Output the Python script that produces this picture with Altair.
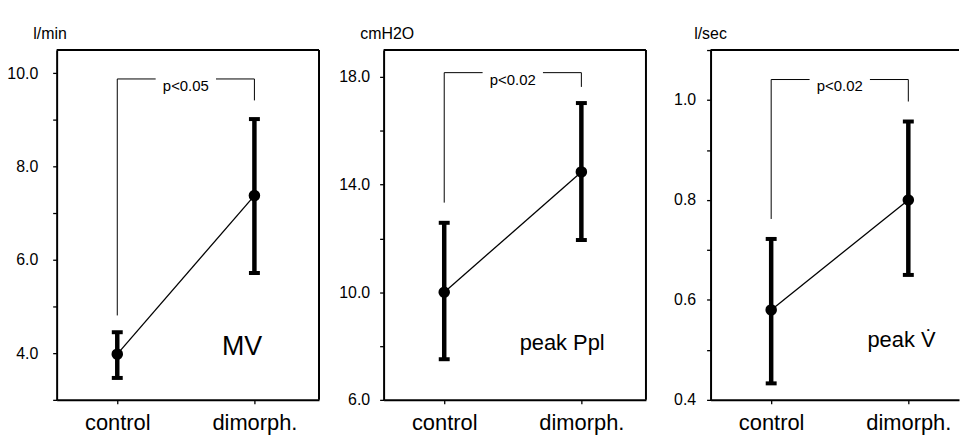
import json
import altair as alt
import pandas as pd

# ---------------- data ----------------
groups = ["control", "dimorph."]

mv_mean = [3.98, 7.38]
mv_low = [3.47, 5.72]
mv_high = [4.45, 9.02]

ppl_mean = [10.0, 14.47]
ppl_low = [7.51, 11.94]
ppl_high = [12.58, 17.03]

v_mean = [0.58, 0.80]
v_low = [0.433, 0.65]
v_high = [0.722, 0.957]

units = ["l/min", "cmH2O", "l/sec"]
labels = ["MV", "peak Ppl", "peak V\u0307"]
p_texts = ["p<0.05", "p<0.02", "p<0.02"]

mv_ticks = [4.0, 6.0, 8.0, 10.0]
ppl_ticks = [6.0, 10.0, 14.0, 18.0]
v_ticks = [0.4, 0.6, 0.8, 1.0]

# bracket: level, left leg end, right leg end
mv_bracket = [9.88, 4.81, 9.42]
ppl_bracket = [18.16, 13.33, 17.63]
v_bracket = [1.041, 0.762, 0.997]

SANS = "Liberation Sans, Arial, sans-serif"
PX_PER_UNIT = 138.0
LEFT_PX = 61.0


def panel(mean, low, high, unit, label, ptext, majors, bracket, ydom, ystep,
          width, lab_pos, lab_size, lpad, title_x, right_edge=True):
    height = 352
    xmin = -LEFT_PX / PX_PER_UNIT
    xmax = (width - LEFT_PX) / PX_PER_UNIT
    xscale = alt.Scale(domain=[xmin, xmax], nice=False, zero=False)
    yscale = alt.Scale(domain=ydom, nice=False, zero=False)
    n = int(round((ydom[1] - ydom[0]) / ystep))
    minor = [round(ydom[0] + i * ystep, 4) for i in range(n + 1)]
    yaxis = alt.Axis(
        values=minor,
        labelExpr=f"indexof({json.dumps(majors)}, round(datum.value*1000)/1000) >= 0 ? format(datum.value, '.1f') : ''",
        title=unit, titleAngle=0, titleX=title_x, titleY=-12, titleAlign="left",
        titleBaseline="alphabetic", titleFont=SANS, titleFontSize=16,
        titleFontWeight="normal", titleColor="black",
        labelFont=SANS, labelFontSize=16, labelColor="black",
        labelPadding=lpad, tickSize=4, tickColor="black", tickWidth=1.3,
        domain=True, domainColor="black", domainWidth=2, grid=False,
        labelOverlap=False, labelFlush=False, labelBound=False,
    )
    xaxis = alt.Axis(
        values=[0, 1],
        labelExpr=f"{json.dumps(groups)}[datum.value]",
        title=None, labelFont=SANS, labelFontSize=22, labelColor="black",
        labelPadding=9, tickSize=4, tickColor="black", tickWidth=1.3,
        domain=True, domainColor="black", domainWidth=2, grid=False,
        labelFlush=False, labelOverlap=False,
    )

    df = pd.DataFrame({"idx": [0, 1], "group": groups, "mean": mean,
                       "low": low, "high": high})
    one = pd.DataFrame({"k": [0]})
    br = pd.DataFrame({"idx": [0, 1], "top": [bracket[0], bracket[0]],
                       "bottom": [bracket[1], bracket[2]]})
    gap = pd.DataFrame({"a": [0.0, 0.72], "b": [0.28, 1.0],
                        "y": [bracket[0], bracket[0]]})

    X = lambda f: alt.X(f, type="quantitative", scale=xscale, axis=xaxis)
    Y = lambda f: alt.Y(f, type="quantitative", scale=yscale, axis=yaxis)

    base = alt.Chart(df)
    err = base.mark_rule(strokeWidth=4.5, color="black").encode(
        x=X("idx"), y=Y("low"), y2="high")
    cap_lo = base.mark_tick(orient="horizontal", size=11, thickness=4,
                            color="black", opacity=1).encode(x=X("idx"), y=Y("low"))
    cap_hi = base.mark_tick(orient="horizontal", size=11, thickness=4,
                            color="black", opacity=1).encode(x=X("idx"), y=Y("high"))
    line = base.mark_line(strokeWidth=1.3, color="black").encode(
        x=X("idx"), y=Y("mean"))
    pts = base.mark_circle(size=135, color="black", opacity=1).encode(
        x=X("idx"), y=Y("mean"))
    legs = alt.Chart(br).mark_rule(strokeWidth=1, color="black").encode(
        x=X("idx"), y=Y("top"), y2="bottom")
    horiz = alt.Chart(gap).mark_rule(strokeWidth=1, color="black").encode(
        x=X("a"), x2="b", y=Y("y"))
    ptxt = alt.Chart(one).mark_text(font=SANS, fontSize=15, fontWeight="normal",
                                    baseline="alphabetic", dy=12, color="black").encode(
        x=alt.datum(0.5), y=alt.datum(bracket[0]), text=alt.value(ptext))
    lab = alt.Chart(one).mark_text(font=SANS, fontSize=lab_size, baseline="alphabetic",
                                   color="black").encode(
        x=alt.datum(lab_pos[0]), y=alt.datum(lab_pos[1]), text=alt.value(label))
    top = alt.Chart(one).mark_rule(strokeWidth=2, color="black").encode(
        x=alt.datum(xmin), x2=alt.datum(xmax), y=alt.datum(ydom[1]))
    layers = [top, horiz, legs, line, err, cap_lo, cap_hi, pts, ptxt, lab]
    if right_edge:
        right = alt.Chart(one).mark_rule(strokeWidth=2, color="black").encode(
            x=alt.datum(xmax), y=alt.datum(ydom[0]), y2=alt.datum(ydom[1]))
        layers.insert(0, right)
    return alt.layer(*layers).properties(width=width, height=height)


p1 = panel(mv_mean, mv_low, mv_high, units[0], labels[0], p_texts[0], mv_ticks,
           mv_bracket, [3.0, 10.5], 0.25, 264, (0.91, 3.96), 27, 15, -24)
p2 = panel(ppl_mean, ppl_low, ppl_high, units[1], labels[1], p_texts[1], ppl_ticks,
           ppl_bracket, [6.0, 19.0], 0.5, 264, (0.86, 7.86), 22, 10, -24)
p3 = panel(v_mean, v_low, v_high, units[2], labels[2], p_texts[2], v_ticks,
           v_bracket, [0.4, 1.1], 0.025, 250, (0.95, 0.505), 22, 11, -17,
           right_edge=False)

chart = alt.hconcat(p1, p2, p3, spacing=65, bounds="flush").properties(
    padding={"left": 6, "top": 24, "right": 0, "bottom": 0},
    background="white",
).configure_view(strokeWidth=0)

chart.save("out.html", embed_options={"renderer": "svg", "actions": False})
